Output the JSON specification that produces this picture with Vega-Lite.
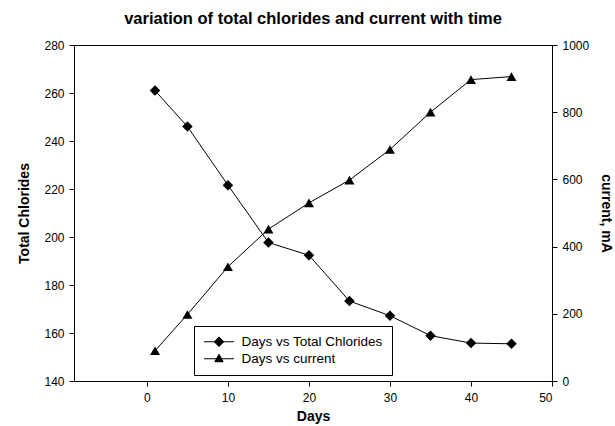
{
  "$schema": "https://vega.github.io/schema/vega-lite/v6.json",
  "width": 478,
  "height": 336,
  "autosize": "none",
  "padding": {"left": 74, "top": 45, "right": 63, "bottom": 45},
  "title": {"text": "variation of total chlorides and current with time", "fontSize": 16.5, "font": "Liberation Sans", "fontWeight": "bold", "color": "black", "offset": 12},
  "config": {
    "view": {"stroke": "black", "strokeWidth": 1},
    "font": "Liberation Sans",
    "axis": {"grid": false, "domainColor": "black", "tickColor": "black", "labelColor": "black", "titleColor": "black", "labelFont": "Liberation Sans", "labelFontSize": 12, "titleFont": "Liberation Sans", "titleFontSize": 14, "titleFontWeight": "bold", "tickSize": 5, "labelPadding": 5}
  },
  "data": {"values": [
    {"day": 1, "chlorides": 261, "current": 90},
    {"day": 5, "chlorides": 246, "current": 198},
    {"day": 10, "chlorides": 221.6, "current": 340},
    {"day": 15, "chlorides": 197.7, "current": 452},
    {"day": 20, "chlorides": 192.4, "current": 530},
    {"day": 25, "chlorides": 173.3, "current": 598},
    {"day": 30, "chlorides": 167.2, "current": 689},
    {"day": 35, "chlorides": 158.9, "current": 800},
    {"day": 40, "chlorides": 155.8, "current": 897},
    {"day": 45, "chlorides": 155.5, "current": 906}
  ]},
  "encoding": {
    "x": {"field": "day", "type": "quantitative", "scale": {"domain": [-9, 50], "nice": false, "zero": false}, "axis": {"title": "Days", "values": [0, 10, 20, 30, 40, 50], "titlePadding": 6, "labelPadding": 6}}
  },
  "layer": [
    {
      "encoding": {
        "y": {"field": "chlorides", "type": "quantitative", "scale": {"domain": [140, 280], "nice": false, "zero": false}, "axis": {"title": "Total Chlorides", "orient": "left", "values": [140, 160, 180, 200, 220, 240, 260, 280], "titlePadding": 12}}
      },
      "layer": [
        {"mark": {"type": "line", "strokeWidth": 1}, "encoding": {"color": {"datum": "Days vs Total Chlorides", "type": "nominal", "scale": {"domain": ["Days vs Total Chlorides", "Days vs current"], "range": ["black", "black"]}, "legend": {"orient": "none", "legendX": 120, "legendY": 281, "title": null, "strokeColor": "black", "fillColor": "white", "padding": 9, "labelFontSize": 13.5, "labelFont": "Liberation Sans", "labelColor": "black", "symbolSize": 144, "labelOffset": 25, "rowPadding": 2, "offset": 0, "encode": {"symbols": {"update": {"shape": {"signal": "datum.label == 'Days vs current' ? 'M-2.5,0H2.5M0,-0.75L0.7,0.5L-0.7,0.5Z' : 'M-2.5,0H2.5M0,-0.8L0.8,0L0,0.8L-0.8,0Z'"}, "fill": {"value": "black"}, "stroke": {"value": "black"}, "strokeWidth": {"value": 1}, "x": {"value": 16}}}}}}}},
        {"mark": {"type": "point", "shape": "diamond", "filled": true, "color": "black", "size": 110, "opacity": 1}}
      ]
    },
    {
      "encoding": {
        "y": {"field": "current", "type": "quantitative", "scale": {"domain": [0, 1000], "nice": false}, "axis": {"title": "current, mA", "orient": "right", "format": "d", "values": [0, 200, 400, 600, 800, 1000], "titlePadding": 10}}
      },
      "layer": [
        {"mark": {"type": "line", "strokeWidth": 1}, "encoding": {"color": {"datum": "Days vs current", "type": "nominal"}}},
        {"mark": {"type": "point", "shape": "triangle-up", "filled": true, "color": "black", "size": 100, "opacity": 1}}
      ]
    }
  ],
  "resolve": {"scale": {"y": "independent"}}
}
